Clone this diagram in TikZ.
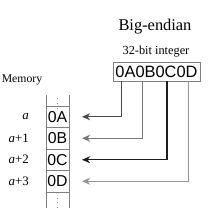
\documentclass[tikz,border=0pt]{standalone}
\usepackage{fontspec}
\setmainfont{Liberation Serif}
\setsansfont{Liberation Sans}
\usetikzlibrary{arrows.meta,calc}

\definecolor{wireA}{HTML}{4A4A4A}
\definecolor{wireB}{HTML}{777777}
\definecolor{wireC}{HTML}{1E1E1E}
\definecolor{wireD}{HTML}{959595}
\definecolor{frame}{HTML}{808080}

\begin{document}
\begin{tikzpicture}[x=0.03cm,y=-0.03cm]
\tikzstyle{cell}=[draw=frame,line width=0.8pt,minimum width=0.69cm,minimum height=0.645cm,inner sep=0pt,outer sep=0pt,font=\sffamily\fontsize{13.5}{15}\selectfont]
\tikzstyle{addr}=[font=\fontsize{11}{13}\selectfont,anchor=east]
\tikzstyle{wire}=[line width=1.2pt,-{Stealth[length=7pt,width=6pt]}]
\tikzstyle{dots}=[inner sep=0pt,font=\fontsize{6}{6}\selectfont]
   \useasboundingbox (0,0) rectangle (216,214);

   % titles and the integer
   \draw (155,27) node (title) {\fontsize{14}{16}\selectfont Big-endian};
   \draw (156,52) node (sub) {\fontsize{10.5}{12}\selectfont 32-bit integer};
   \draw (156.5,71.5) node (int) [draw=frame,line width=0.8pt,minimum width=2.61cm,minimum height=0.57cm,inner sep=0pt,font=\sffamily\fontsize{14}{16}\selectfont] {0A0B0C0D};

   % memory column
   \draw (22,80) node (mem) {\fontsize{10}{12}\selectfont Memory};
   \draw (57.5,116.75) node (m0) [cell] {0A};
   \draw (57.5,138.25) node (m1) [cell] {0B};
   \draw (57.5,159.75) node (m2) [cell] {0C};
   \draw (57.5,181.25) node (m3) [cell] {0D};
   \draw [draw=frame,line width=0.8pt] (m0.north west) -- ++(0,-11);
   \draw [draw=frame,line width=0.8pt] (m0.north east) -- ++(0,-11);
   \draw [draw=frame,line width=0.8pt] (m3.south west) -- ++(0,16);
   \draw [draw=frame,line width=0.8pt] (m3.south east) -- ++(0,16);
   \node (top) [dots] at ($(m0.north)+(0,-5.5)$) {$\vdots$};
   \node (bot) [dots] at ($(m3.south)+(0,8)$) {$\vdots$};

   % addresses
   \node (a0) [addr] at (33,116.75) {\textit{a}};
   \node (a1) [addr] at (33,138.25) {\textit{a}+1};
   \node (a2) [addr] at (33,159.75) {\textit{a}+2};
   \node (a3) [addr] at (33,181.25) {\textit{a}+3};

   % bytes to memory
   \draw [wire,wireA] ($(int.south west)+(9,0)$) |- ($(m0.east)+(13,0)$);
   \draw [wire,wireB] ($(int.south west)+(30,0)$) |- ($(m1.east)+(13,0)$);
   \draw [wire,wireC] ($(int.south west)+(54.5,0)$) |- ($(m2.east)+(13,0)$);
   \draw [wire,wireD] ($(int.south west)+(76,0)$) |- ($(m3.east)+(13,0)$);
\end{tikzpicture}
\end{document}
